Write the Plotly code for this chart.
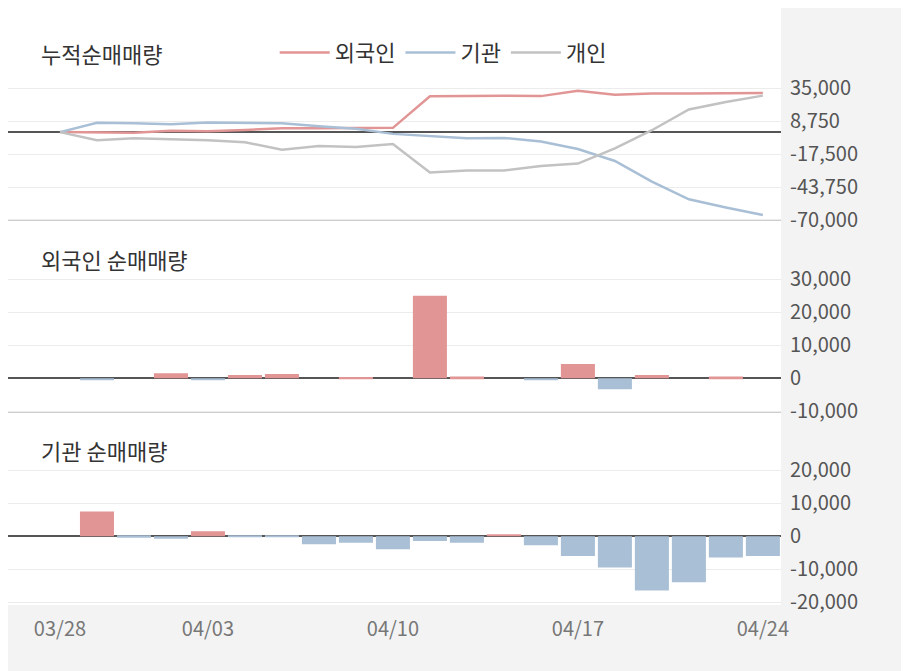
import plotly.graph_objects as go

dates = ["03/28", "03/29", "04/01", "04/02", "04/03", "04/04", "04/05", "04/08", "04/09", "04/10",
         "04/11", "04/12", "04/15", "04/16", "04/17", "04/18", "04/19", "04/22", "04/23", "04/24"]
idx = list(range(len(dates)))

# cumulative net buying
cum_foreign = [0, -500, -500, 1000, 700, 1700, 3000, 3000, 3400, 3400,
               28400, 28900, 28900, 28600, 32900, 29600, 30600, 30600, 31100, 31100]
cum_inst = [0, 7500, 7000, 6200, 7700, 7400, 7100, 4600, 2600, -1400,
            -2900, -4900, -4600, -7400, -13400, -22900, -39400, -53400, -59900, -65900]
cum_indiv = [0, -6400, -4800, -5500, -6400, -8000, -14000, -11000, -11800, -9500,
             -32000, -30500, -30500, -27000, -25000, -13000, 1500, 18000, 24000, 29000]

# daily net buying
foreign = [0, -500, 0, 1500, -300, 1000, 1300, 0, 400, 0,
           25000, 500, 0, -300, 4300, -3300, 1000, 0, 500, 0]
inst = [0, 7500, -500, -800, 1500, -300, -300, -2500, -2000, -4000,
        -1500, -2000, 300, -2800, -6000, -9500, -16500, -14000, -6500, -6000]

RED, BLUE, GRAY = "#e29595", "#a9bfd6", "#c2c2c2"

fig = go.Figure()
fig.add_trace(go.Scatter(x=idx, y=cum_foreign, name="외국인", mode="lines",
                         line=dict(color=RED, width=2.5), yaxis="y"))
fig.add_trace(go.Scatter(x=idx, y=cum_inst, name="기관", mode="lines",
                         line=dict(color=BLUE, width=2.5), yaxis="y"))
fig.add_trace(go.Scatter(x=idx, y=cum_indiv, name="개인", mode="lines",
                         line=dict(color=GRAY, width=2.5), yaxis="y"))
fig.add_trace(go.Bar(x=idx, y=foreign, width=0.92, showlegend=False, yaxis="y2",
                     marker=dict(color=[RED if v >= 0 else BLUE for v in foreign], line_width=0)))
fig.add_trace(go.Bar(x=idx, y=inst, width=0.92, showlegend=False, yaxis="y3",
                     marker=dict(color=[RED if v >= 0 else BLUE for v in inst], line_width=0)))

ax = dict(side="right", showgrid=True, gridcolor="#ececec", zeroline=True, zerolinecolor="#555",
          zerolinewidth=1.5, tickfont=dict(size=20, color="#555"), anchor="x",
          ticklabelstandoff=8, automargin=False)
fig.update_layout(
    width=909, height=671,
    margin=dict(l=0, r=136, t=0, b=74, autoexpand=False),
    paper_bgcolor="#f3f3f3", plot_bgcolor="white",
    font=dict(family="Noto Sans CJK KR"),
    barmode="relative",
    xaxis=dict(range=[-1.405, 19.49], tickvals=[0, 4, 9, 14, 19], anchor="y3",
               ticktext=[dates[i] for i in [0, 4, 9, 14, 19]], showgrid=False,
               tickfont=dict(size=20, color="#777"), ticks="", zeroline=False,
               automargin=False, ticklabelstandoff=10),
    yaxis=dict(ax, domain=[0.6445, 1], range=[-70000, 98600],
               tickvals=[35000, 8750, -17500, -43750, -70000],
               ticktext=["35,000", "8,750", "-17,500", "-43,750", "-70,000"]),
    yaxis2=dict(ax, domain=[0.3229, 0.6445], range=[-10300, 47900],
                tickvals=[30000, 20000, 10000, 0, -10000],
                ticktext=["30,000", "20,000", "10,000", "0", "-10,000"]),
    yaxis3=dict(ax, domain=[0, 0.3229], range=[-20900, 37600],
                tickvals=[20000, 10000, 0, -10000, -20000],
                ticktext=["20,000", "10,000", "0", "-10,000", "-20,000"]),
    legend=dict(orientation="h", x=0.345, y=0.925, xanchor="left", yanchor="middle",
                bgcolor="rgba(0,0,0,0)", font=dict(size=22, color="#333"), itemwidth=50,
                tracegroupgap=0),
    shapes=[dict(type="line", xref="paper", yref="paper", x0=0, x1=1, y0=d, y1=d,
                 line=dict(color="#bbb", width=1)) for d in [0.6445, 0.3229]],
    annotations=[dict(text=t, xref="paper", yref="paper", x=0.04, y=y, xanchor="left",
                      yanchor="middle", showarrow=False, font=dict(size=22, color="#333"))
                 for t, y in [("누적순매매량", 0.925), ("외국인 순매매량", 0.58), ("기관 순매매량", 0.26)]],
)
fig.write_html("out.html")
